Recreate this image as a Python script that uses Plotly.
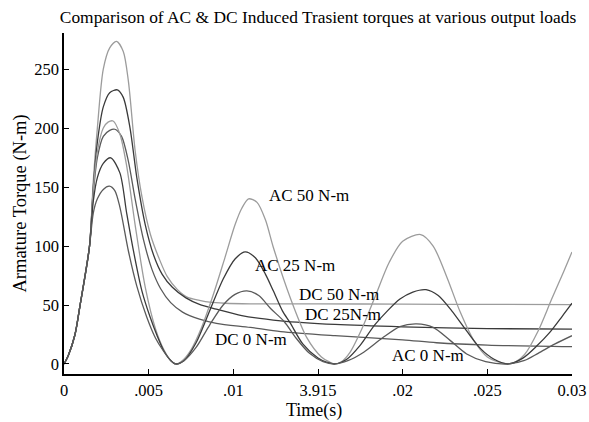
import plotly.graph_objects as go

# ---- data ----
t_dc50 = [0, 0.00025, 0.00065, 0.00094, 0.0015, 0.00173, 0.00197, 0.00232, 0.0027, 0.0031, 0.0035, 0.0038,
          0.0042, 0.0046, 0.0051, 0.0056, 0.0061, 0.0067, 0.0073, 0.0080, 0.0086, 0.0095, 0.011, 0.015, 0.02, 0.025, 0.03]
v_dc50 = [0, 7, 25, 49, 99, 155, 200, 250, 268, 273.5, 265, 240,
          181, 142, 110, 90, 74, 63, 56.5, 54, 52.4, 51.5, 51, 51, 50.7, 50.5, 50.4]

t_dc25 = [0, 0.00025, 0.00065, 0.00094, 0.0015, 0.00173, 0.00197, 0.00232, 0.0027, 0.00315, 0.0035, 0.0039,
          0.0043, 0.0048, 0.0053, 0.0058, 0.0064, 0.0072, 0.008, 0.009, 0.0105, 0.0128, 0.016, 0.02, 0.025, 0.03]
v_dc25 = [0, 7, 25, 49, 99, 150, 188, 218, 230, 232.4, 226, 200,
          158, 118, 92, 76, 65, 56, 50.5, 46.5, 41, 36.6, 33.5, 31.5, 30, 29.5]

t_dc0 = [0, 0.00025, 0.00065, 0.00094, 0.0015, 0.00173, 0.00197, 0.00232, 0.0027, 0.0030, 0.0034, 0.0038,
         0.0042, 0.0047, 0.0052, 0.0057, 0.0063, 0.007, 0.008, 0.009, 0.011, 0.0128, 0.016, 0.02, 0.022, 0.025, 0.03]
v_dc0 = [0, 7, 25, 49, 99, 145, 175, 193, 198, 199, 193, 172,
         140, 105, 80, 64, 52, 44, 38, 34.5, 31, 27.5, 24, 20.5, 18, 16, 14.7]

t_ac50 = [0, 0.00025, 0.00065, 0.00094, 0.0015, 0.00173, 0.00197, 0.00232, 0.0026, 0.0029, 0.0033, 0.0037,
          0.0042, 0.0048, 0.0054, 0.0059, 0.0063, 0.00661, 0.0070, 0.0075, 0.0081, 0.0088, 0.0095, 0.0101,
          0.0105, 0.0109, 0.0114, 0.0119, 0.01236, 0.01335, 0.01433, 0.0152, 0.0157, 0.0160, 0.0164, 0.0169,
          0.0176, 0.0184, 0.0192, 0.0200, 0.02106, 0.0218, 0.0226, 0.0234, 0.0242, 0.025, 0.0257, 0.02624,
          0.0267, 0.0272, 0.0280, 0.0288, 0.0295, 0.0300]
v_ac50 = [0, 7, 25, 49, 99, 148, 180, 200, 205, 206, 195, 168,
          118, 65, 30, 12, 3, 0, 3, 12, 30, 58, 90, 118,
          132, 140, 137, 122, 99, 56.6, 22.6, 6, 1.5, 0, 2, 10,
          30, 58, 86, 104, 109.7, 100, 74, 44, 20, 6, 1.5, 0,
          2, 8, 28, 55, 78, 95]

t_ac25 = [0, 0.00025, 0.00065, 0.00094, 0.0015, 0.00173, 0.00197, 0.00232, 0.00276, 0.0033, 0.0037, 0.0041,
          0.0046, 0.00508, 0.0055, 0.0059, 0.0063, 0.00661, 0.0071, 0.0078, 0.0086, 0.0094, 0.0101, 0.0107,
          0.0113, 0.0119, 0.01236, 0.0129, 0.01335, 0.0141, 0.015, 0.0155, 0.016, 0.0167, 0.0175, 0.0184,
          0.01984, 0.0206, 0.02138, 0.0221, 0.0229, 0.02378, 0.0246, 0.0254, 0.02624, 0.0271, 0.0279, 0.0287,
          0.0294, 0.03]
v_ac25 = [0, 7, 25, 49, 99, 138, 158, 170, 174.8, 162, 128, 96,
          62, 40, 24, 11, 3, 0, 3, 18, 45, 72, 89, 95,
          90, 76, 62, 45, 35, 17, 5, 1.5, 0, 4, 16, 34,
          55, 61, 63, 58, 45, 28, 13, 4, 0, 5, 15, 27,
          40, 51.5]

t_ac0 = [0, 0.00025, 0.00065, 0.00094, 0.0015, 0.00173, 0.00197, 0.00232, 0.00268, 0.0030, 0.0033, 0.0038,
         0.0043, 0.00488, 0.0054, 0.00587, 0.0063, 0.00661, 0.0071, 0.0078, 0.0086, 0.0094, 0.0101, 0.0108,
         0.0115, 0.0122, 0.0130, 0.0137, 0.0145, 0.0153, 0.016, 0.0168, 0.0177, 0.0188, 0.01984, 0.02083,
         0.0218, 0.0228, 0.02378, 0.0249, 0.02624, 0.0272, 0.028, 0.029, 0.03]
v_ac0 = [0, 7, 25, 49, 99, 128, 140, 148, 150.7, 147, 133, 96,
         66, 40, 22, 11, 3, 0, 3, 14, 33, 50, 59, 62,
         58, 47, 36, 22, 9, 2, 0, 3, 10, 22, 31.7, 34,
         31, 20, 8.5, 2, 0, 3, 9, 17, 24]

x_tickvals = [0, 0.005, 0.01, 0.015, 0.02, 0.025, 0.03]
x_ticktext = ["0", ".005", ".01", "3.915", ".02", ".025", "0.03"]
y_tickvals = [0, 50, 100, 150, 200, 250]
y_ticktext = ["0", "50", "100", "150", "200", "250"]

labels = ["AC 50 N-m", "AC 25 N-m", "DC 50 N-m", "DC 25N-m", "DC 0 N-m", "AC 0 N-m"]
label_x = [0.01199, 0.01116, 0.01376, 0.01411, 0.0088, 0.01928]
label_y = [143, 83.6, 59, 42, 20.7, 7.5]

LIGHT = "#9c9c9c"
DARK = "#3a3a3a"
MID = "#5a5a5a"
FONT = "Liberation Serif"

series = [
    ("DC 50", t_dc50, v_dc50, LIGHT),
    ("DC 25", t_dc25, v_dc25, DARK),
    ("DC 0", t_dc0, v_dc0, MID),
    ("AC 50", t_ac50, v_ac50, LIGHT),
    ("AC 25", t_ac25, v_ac25, DARK),
    ("AC 0", t_ac0, v_ac0, MID),
]

fig = go.Figure()
for name, t, v, c in series:
    fig.add_trace(go.Scatter(x=t, y=v, mode="lines", name=name,
                             line=dict(color=c, width=1.3, shape="spline", smoothing=0.8),
                             showlegend=False))

for txt, lx, ly in zip(labels, label_x, label_y):
    fig.add_annotation(x=lx, y=ly, text=txt, showarrow=False, xanchor="left", yanchor="middle",
                       font=dict(family=FONT, size=17, color="black"))

# axis titles placed as paper annotations (plot area: x 64..572 px, y 33..374 px)
fig.add_annotation(x=(313.5 - 64) / 508, y=(374 - 411) / 341, xref="paper", yref="paper",
                   text="Time(s)", showarrow=False, xanchor="center", yanchor="middle",
                   font=dict(family=FONT, size=18, color="black"))
fig.add_annotation(x=(20 - 64) / 508, y=0.5, xref="paper", yref="paper",
                   text="Armature Torque (N-m)", showarrow=False, textangle=-90,
                   xanchor="center", yanchor="middle",
                   font=dict(family=FONT, size=18.5, color="black"))

fig.update_layout(
    template="none",
    width=589, height=422,
    margin=dict(l=64, r=17, t=33, b=48, autoexpand=False),
    paper_bgcolor="white", plot_bgcolor="white",
    font=dict(family=FONT, size=16.5, color="black"),
    title=dict(text="Comparison of AC &amp; DC Induced Trasient torques at various output loads",
               x=0.5, xref="paper", y=1 - 17 / 422, yref="container", yanchor="middle",
               font=dict(family=FONT, size=17.4, color="black")),
)
fig.update_xaxes(range=[0, 0.03], tickvals=x_tickvals, ticktext=x_ticktext, automargin=False,
                 ticks="inside", ticklen=5, tickwidth=1, tickcolor="black",
                 tickfont=dict(family=FONT, size=16.5),
                 showline=True, linecolor="black", linewidth=1.5, showgrid=False, zeroline=False)
fig.update_yaxes(range=[-8.5, 280.6], tickvals=y_tickvals + [280.6], ticktext=y_ticktext + [""],
                 automargin=False,
                 ticks="inside", ticklen=5, tickwidth=1, tickcolor="black",
                 tickfont=dict(family=FONT, size=16.5),
                 showline=True, linecolor="black", linewidth=1.5, showgrid=False, zeroline=False)

fig.write_html("out.html")
